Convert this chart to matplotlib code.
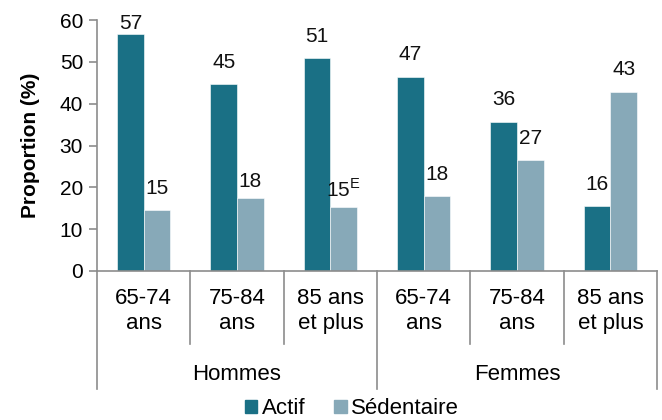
import numpy as np
import matplotlib.pyplot as plt
from matplotlib.patches import Patch
import matplotlib.transforms as mtransforms

plt.rcParams['font.family'] = ['Liberation Sans', 'DejaVu Sans']

# data
age_groups = ["65-74\nans", "75-84\nans", "85 ans\net plus",
              "65-74\nans", "75-84\nans", "85 ans\net plus"]
sexes = ["Hommes", "Femmes"]
actif = [56.6, 44.7, 50.8, 46.4, 35.7, 15.5]
sedentaire = [14.5, 17.4, 15.2, 17.9, 26.5, 42.9]
actif_labels = ["57", "45", "51", "47", "36", "16"]
sedentaire_labels = ["15", "18", "15", "18", "27", "43"]
sedentaire_flags = ["", "", "E", "", "", ""]

c_actif = "#1A7085"
c_sed = "#87A9B8"
grey = "#8C8C8C"

fig = plt.figure(figsize=(6.62, 4.2), dpi=100)
ax = fig.add_axes([97 / 662, 1 - 271 / 420, 560 / 662, 251 / 420])

x = np.arange(len(age_groups))
w = 0.286
b1 = ax.bar(x - w / 2, actif, w, color=c_actif, edgecolor="white", linewidth=0.4)
b2 = ax.bar(x + w / 2, sedentaire, w, color=c_sed, edgecolor="white", linewidth=0.4)

# value labels (offsets in points, tweaked like the original)
off_a = [1, 9, 9, 9, 9, 9]
off_s = [9, 5, 5, 9, 9, 9]
for i, r in enumerate(b1):
    ax.annotate(actif_labels[i], (r.get_x() + r.get_width() / 2, r.get_height()),
                xytext=(0, off_a[i]), textcoords="offset points",
                ha="center", va="bottom", fontsize=15, color="#111111")
for i, r in enumerate(b2):
    txt = sedentaire_labels[i]
    if sedentaire_flags[i]:
        txt += "$^{\\mathregular{" + sedentaire_flags[i] + "}}$"
    ax.annotate(txt, (r.get_x() + r.get_width() / 2, r.get_height()),
                xytext=(0, off_s[i]), textcoords="offset points",
                ha="center", va="bottom", fontsize=15, color="#111111")

ax.set_xlim(-0.5, len(age_groups) - 0.5)
ax.set_ylim(0, 60)
ax.set_yticks(range(0, 61, 10))
ax.tick_params(axis="y", labelsize=15, length=6, width=1.2, color=grey, pad=4)
ax.set_xticks(x)
ax.set_xticklabels(age_groups, fontsize=16, linespacing=1.25)
ax.tick_params(axis="x", length=0, pad=12)
ax.set_ylabel("Proportion (%)", fontsize=15, fontweight="bold", labelpad=14)

for s in ["top", "right"]:
    ax.spines[s].set_visible(False)
for s in ["left", "bottom"]:
    ax.spines[s].set_color(grey)
    ax.spines[s].set_linewidth(1.2)

# category separators below the axis
trans = mtransforms.blended_transform_factory(ax.transData, ax.transAxes)
for xs in np.arange(-0.5, len(age_groups), 1.0):
    outer = (xs + 0.5) % 3 == 0
    ax.plot([xs, xs], [0, -0.47 if outer else -0.291], transform=trans,
            color=grey, lw=1.2, clip_on=False)

for j, sx in enumerate(sexes):
    ax.text(1 + 3 * j, -0.414, sx, transform=trans, ha="center", va="center",
            fontsize=16)

handles = [Patch(color=c_actif, label="Actif"), Patch(color=c_sed, label="Sédentaire")]
fig.legend(handles=handles, loc="center", bbox_to_anchor=(352 / 662, 1 - 409 / 420),
           ncol=2, frameon=False, fontsize=16, handlelength=0.55, handleheight=0.55,
           handletextpad=0.2, columnspacing=1.3, borderaxespad=0, borderpad=0)

fig.savefig("out.png", dpi=100)
